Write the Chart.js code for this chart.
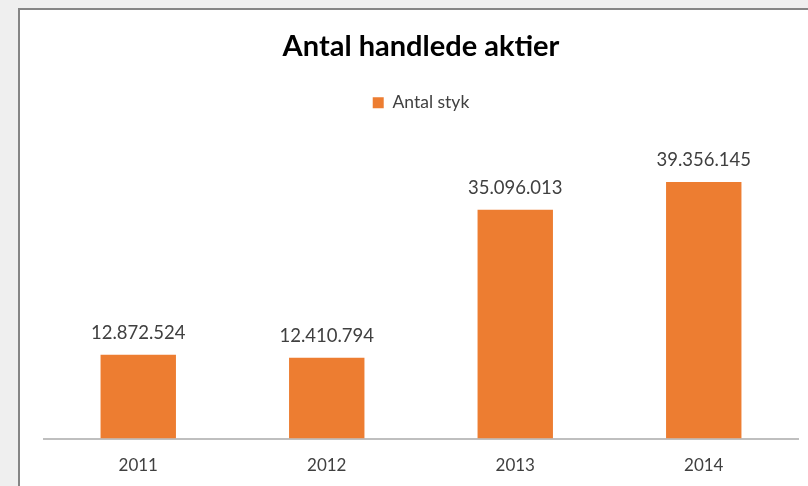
<!DOCTYPE html>
<html><head><meta charset="utf-8">
<script src="https://cdn.jsdelivr.net/npm/chart.js@4/dist/chart.umd.min.js"></script>
<style>
html,body{margin:0;padding:0;width:808px;height:486px;overflow:hidden;background:#efefef;}
#box{position:absolute;left:18px;top:8px;width:820px;height:500px;background:#fff;border:2px solid #858585;}
#wrap{position:absolute;left:0;top:0;width:808px;height:486px;}
</style></head><body>
<div id="box"></div>
<div id="wrap"><canvas id="c" width="808" height="486"></canvas></div>
<script>
const categories = ["2011", "2012", "2013", "2014"];
const seriesName = "Antal styk";
const values = [12872524, 12410794, 35096013, 39356145];
const chartTitle = "Antal handlede aktier";

function fmt(n){ return String(n).replace(/\B(?=(\d{3})+(?!\d))/g, "."); }

const labelPlugin = {
  id: 'valueLabels',
  afterDatasetsDraw(chart){
    const ctx = chart.ctx;
    const meta = chart.getDatasetMeta(0);
    ctx.save();
    ctx.font = '18.5px Lato';
    ctx.fillStyle = '#404040';
    ctx.textAlign = 'center';
    ctx.textBaseline = 'middle';
    meta.data.forEach((bar, i) => {
      ctx.fillText(fmt(chart.data.datasets[0].data[i]), bar.x, bar.y - 22);
    });
    ctx.restore();
  }
};
const legendFit = {
  id: 'legendFit',
  beforeInit(chart){
    const orig = chart.legend.fit;
    chart.legend.fit = function(){ orig.bind(chart.legend)(); this.height -= 9; };
  }
};

new Chart(document.getElementById('c'), {
  type: 'bar',
  data: { labels: categories, datasets: [{ label: seriesName, data: values,
    backgroundColor: '#ED7D31', borderColor: '#ED7D31', borderWidth: 0,
    categoryPercentage: 1, barPercentage: 0.4 }] },
  options: {
    responsive: false, animation: false,
    layout: { padding: { left: 44, right: 10, top: 0, bottom: 1 } },
    plugins: {
      title: { display: true, text: chartTitle, color: '#000', font: { family: 'Lato', size: 29, weight: 'bold' }, padding: { top: 29.6, bottom: 19.6 } },
      legend: { position: 'top', labels: { color: '#404040', font: { family: 'Lato', size: 17.5 }, boxWidth: 11, boxHeight: 11, padding: 10 } },
      tooltip: { enabled: false }
    },
    scales: {
      x: { grid: { display: false }, border: { color: '#bfbfbf', width: 2 },
           ticks: { color: '#404040', font: { family: 'Lato', size: 17 }, padding: 9 } },
      y: { display: false, min: 0, max: 50000000 }
    }
  },
  plugins: [labelPlugin, legendFit]
});
</script></body></html>
